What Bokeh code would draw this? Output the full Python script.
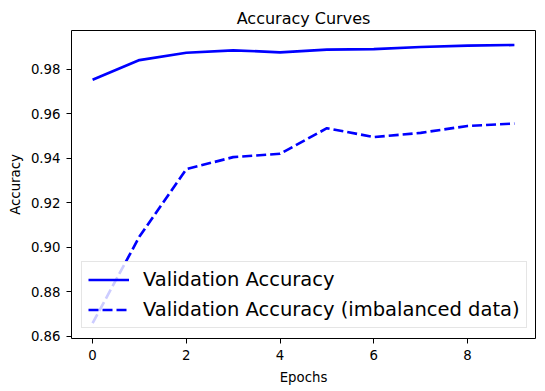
from bokeh.plotting import figure
from bokeh.models import Range1d, FixedTicker, PrintfTickFormatter, Legend, LegendItem
from bokeh.embed import file_html
from bokeh.resources import INLINE

epochs = [0, 1, 2, 3, 4, 5, 6, 7, 8, 9]
val_acc = [0.9754, 0.9842, 0.9875, 0.9886, 0.9877, 0.9889, 0.9891, 0.9901, 0.9907, 0.9910]
val_acc_imb = [0.8660, 0.9049, 0.9352, 0.9406, 0.9421, 0.9536, 0.9496, 0.9515, 0.9546, 0.9557]
x_ticks = [0, 2, 4, 6, 8]
y_ticks = [0.86, 0.88, 0.90, 0.92, 0.94, 0.96, 0.98]

FONT = "DejaVu Sans"

p = figure(width=545, height=391, output_backend="svg", toolbar_location=None,
           x_range=Range1d(-0.45, 9.45), y_range=Range1d(0.8591, 0.9975),
           title="Accuracy Curves",
           min_border_left=71, min_border_right=10, min_border_top=30, min_border_bottom=53)

p.title.align = "center"
p.title.text_font = FONT
p.title.text_font_size = "16px"
p.title.text_font_style = "normal"
p.title.text_color = "black"
p.title.standoff = 6

r1 = p.line(epochs, val_acc, line_color="blue", line_width=2.67)
r2 = p.line(epochs, val_acc_imb, line_color="blue", line_width=2.67, line_dash="10 4")

p.xgrid.visible = False
p.ygrid.visible = False
p.outline_line_color = "black"
p.outline_line_alpha = 1
p.outline_line_width = 1

for ax in (p.xaxis[0], p.yaxis[0]):
    ax.axis_line_color = None
    ax.major_tick_line_color = "black"
    ax.major_tick_in = 0
    ax.major_tick_out = 5
    ax.minor_tick_line_color = None
    ax.major_label_text_font = FONT
    ax.major_label_text_font_size = "13.3px"
    ax.major_label_text_color = "black"
    ax.axis_label_text_font = FONT
    ax.axis_label_text_font_size = "13.3px"
    ax.axis_label_text_font_style = "normal"
    ax.axis_label_text_color = "black"

p.xaxis.ticker = FixedTicker(ticks=x_ticks)
p.yaxis.ticker = FixedTicker(ticks=y_ticks)
p.yaxis.formatter = PrintfTickFormatter(format="%.2f")
p.xaxis.axis_label = "Epochs"
p.yaxis.axis_label = "Accuracy"
p.xaxis.major_label_standoff = 6
p.yaxis.major_label_standoff = 6
p.xaxis.axis_label_standoff = 7
p.yaxis.axis_label_standoff = 5

legend = Legend(items=[LegendItem(label="Validation Accuracy", renderers=[r1]),
                       LegendItem(label="Validation Accuracy (imbalanced data)", renderers=[r2])],
                location="bottom_left")
legend.label_text_font = FONT
legend.label_text_font_size = "19.5px"
legend.label_text_color = "black"
legend.glyph_width = 41
legend.glyph_height = 21
legend.label_height = 21
legend.label_standoff = 14
legend.spacing = 7
legend.padding = 6
legend.margin = 10
legend.background_fill_alpha = 0.8
legend.border_line_color = "#cccccc"
legend.border_line_width = 1
p.add_layout(legend)

open("out.html", "w").write(file_html(p, INLINE))
